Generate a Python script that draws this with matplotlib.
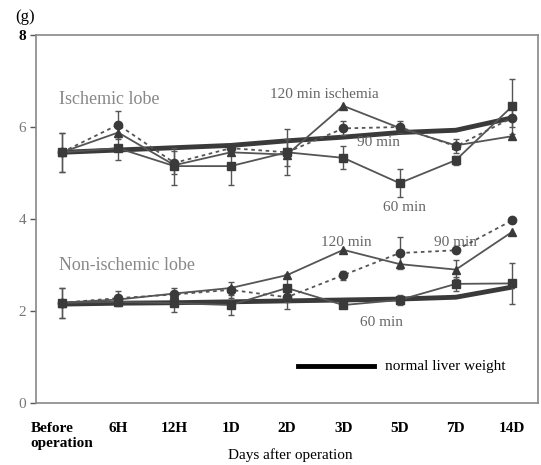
import numpy as np
import matplotlib.pyplot as plt

plt.rcParams['font.family'] = 'Liberation Serif'

days = ['Before\noperation', '6H', '12H', '1D', '2D', '3D', '5D', '7D', '14D']

# ischemic lobe
isch_normal = [5.45, 5.5, 5.55, 5.6, 5.7, 5.78, 5.88, 5.93, 6.2]
isch_60 = [5.45, 5.54, 5.15, 5.15, 5.45, 5.33, 4.78, 5.28, 6.45]
isch_60_err = [0.43, 0.25, 0.4, 0.42, 0.5, 0.25, 0.3, 0.1, 0.6]
isch_90 = [5.45, 6.05, 5.22, 5.54, 5.45, 5.97, 6.0, 5.58, 6.2]
isch_90_err = [0.43, 0.3, 0.25, 0.1, 0.3, 0.15, 0.12, 0.15, 0.2]
isch_120 = [5.45, 5.88, 5.17, 5.45, 5.4, 6.46, 5.98, 5.6, 5.8]

# non-ischemic lobe
non_normal = [2.15, 2.17, 2.18, 2.2, 2.22, 2.24, 2.26, 2.3, 2.52]
non_60 = [2.18, 2.2, 2.17, 2.13, 2.5, 2.13, 2.24, 2.59, 2.6]
non_60_err = [0.33, 0.1, 0.2, 0.22, 0.3, 0.05, 0.1, 0.15, 0.45]
non_90 = [2.18, 2.28, 2.36, 2.46, 2.3, 2.78, 3.26, 3.32, 3.97]
non_90_err = [0.33, 0.15, 0.15, 0.18, 0.25, 0.1, 0.35, 0.05, 0.05]
non_120 = [2.18, 2.25, 2.38, 2.5, 2.78, 3.33, 3.02, 2.9, 3.72]
non_120_err = [0, 0, 0, 0, 0, 0, 0, 0.2, 0]

x = np.arange(len(days))
gray = '#555555'
dark = '#3a3a3a'

fig = plt.figure(figsize=(5.41, 4.65), dpi=100)
ax = fig.add_axes([0.0665, 0.1333, 0.928, 0.7914])

err_kw = dict(ecolor=gray, elinewidth=1, capsize=2.5, capthick=1)

for normal, s60, e60, s90, e90, s120 in [
        (isch_normal, isch_60, isch_60_err, isch_90, isch_90_err, isch_120),
        (non_normal, non_60, non_60_err, non_90, non_90_err, non_120)]:
    ax.plot(x, normal, color=dark, lw=3.5, zorder=2)
    ax.errorbar(x, s60, yerr=e60, color=gray, lw=1.3, marker='s', ms=5.5,
                mfc=dark, mec=dark, zorder=3, **err_kw)
    ax.errorbar(x, s90, yerr=e90, color=gray, lw=1.3, ls=(0, (2, 2)), marker='o',
                ms=6, mfc=dark, mec=dark, zorder=3, **err_kw)
    ax.plot(x, s120, color=gray, lw=1.3, marker='^', ms=5.5, mfc=dark, mec=dark, zorder=3)

ax.errorbar(x[7], non_120[7], yerr=non_120_err[7], fmt='none', **err_kw)

ax.set_xlim(-0.46, 8.46)
ax.set_ylim(0, 8)
ax.set_yticks([0, 2, 4, 6, 8])
ax.set_yticklabels(['0', '2', '4', '6', '8'], fontsize=11, color='#777777')
ax.get_yticklabels()[-1].set_color('black')
ax.get_yticklabels()[-1].set_fontweight('bold')
ax.set_xticks(x)
ax.set_xticklabels(days, fontsize=11, fontweight='bold', linespacing=1.15)
ax.get_xticklabels()[0].set_multialignment('left')
ax.tick_params(axis='x', length=0, pad=14)
ax.tick_params(axis='y', length=4, width=1, color=gray, pad=3)
fig.text(0.536, 0.022, 'Days after operation', fontsize=11, ha='center', va='center')
for sp in ax.spines.values():
    sp.set_color('#888888')
    sp.set_linewidth(1.2)

tc = '#666666'
ax.text(-0.05, 6.5, 'Ischemic lobe', fontsize=13, color='#888888')
ax.text(-0.05, 2.9, 'Non-ischemic lobe', fontsize=13, color='#888888')
ax.text(3.7, 6.62, '120 min ischemia', fontsize=11, color=tc)
ax.text(5.25, 5.58, '90 min', fontsize=11, color=tc)
ax.text(5.7, 4.18, '60 min', fontsize=11, color=tc)
ax.text(4.6, 3.42, '120 min', fontsize=11, color=tc)
ax.text(6.62, 3.42, '90 min', fontsize=11, color=tc)
ax.text(5.3, 1.68, '60 min', fontsize=11, color=tc)

# legend for normal liver weight
ax.plot([4.2, 5.55], [0.8, 0.8], color='black', lw=3.5)
ax.text(5.75, 0.8, 'normal liver weight', fontsize=11, va='center', color='black')

fig.text(0.028, 0.955, '(g)', fontsize=12, color='black')

fig.savefig('out.png', dpi=100)
